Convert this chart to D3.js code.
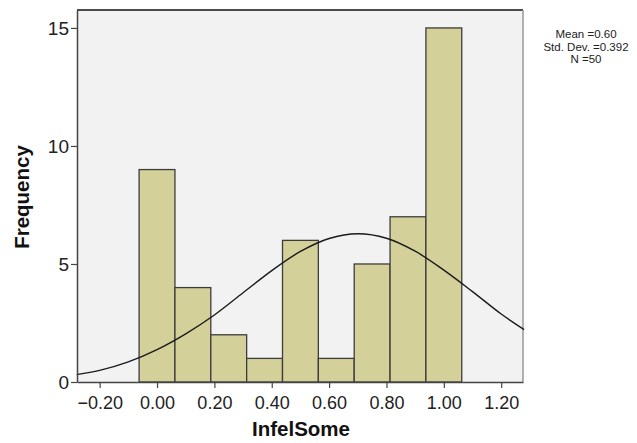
<!DOCTYPE html>
<html>
<head>
<meta charset="utf-8">
<script src="https://cdn.jsdelivr.net/npm/d3@7"></script>
<style>
  body { margin: 0; background: #fff; }
  text { font-family: Arial, "Liberation Sans", sans-serif; }
</style>
</head>
<body>
<script>
// histogram bins (centre of each bin) and counts
var binCenters = [0.00, 0.125, 0.25, 0.375, 0.50, 0.625, 0.75, 0.875, 1.00];
var binCounts = [9, 4, 2, 1, 6, 1, 5, 7, 15];
var binWidth = 0.125;

// normal curve
var curveX = [-0.28, -0.2, -0.1, 0.0, 0.1, 0.2, 0.3, 0.4, 0.5, 0.6, 0.7, 0.8, 0.9, 1.0, 1.1, 1.2, 1.28];
var curveY = [0.31, 0.49, 0.85, 1.37, 2.04, 2.84, 3.78, 4.72, 5.53, 6.08, 6.28, 6.09, 5.54, 4.74, 3.83, 2.88, 2.22];

var xTicks = [-0.2, 0, 0.2, 0.4, 0.6, 0.8, 1.0, 1.2];
var yTicks = [0, 5, 10, 15];
var statLines = ["Mean =0.60", "Std. Dev. =0.392", "N =50"];

var width = 637, height = 443;
var plot = { left: 77, right: 523, top: 10, bottom: 382 };

var svg = d3.select("body").append("svg")
    .attr("width", width)
    .attr("height", height);

var x = d3.scaleLinear().domain([-0.279, 1.276]).range([plot.left, plot.right]);
var y = d3.scaleLinear().domain([0, 15.76]).range([plot.bottom, plot.top]);

// plot background
svg.append("rect")
    .attr("x", plot.left)
    .attr("y", plot.top)
    .attr("width", plot.right - plot.left)
    .attr("height", plot.bottom - plot.top)
    .attr("fill", "#f2f2f2");

// frame: top black, right grey
svg.append("line")
    .attr("x1", plot.left).attr("x2", plot.right)
    .attr("y1", plot.top).attr("y2", plot.top)
    .attr("stroke", "#111").attr("stroke-width", 1.5);
svg.append("line")
    .attr("x1", plot.right).attr("x2", plot.right)
    .attr("y1", plot.top).attr("y2", plot.bottom)
    .attr("stroke", "#999").attr("stroke-width", 1.5);

// bars
svg.selectAll(".bar")
    .data(binCenters)
    .enter().append("rect")
    .attr("class", "bar")
    .attr("x", function(d) { return x(d - binWidth / 2); })
    .attr("y", function(d, i) { return y(binCounts[i]); })
    .attr("width", function(d) { return x(d + binWidth / 2) - x(d - binWidth / 2); })
    .attr("height", function(d, i) { return y(0) - y(binCounts[i]); })
    .attr("fill", "#d3d099")
    .attr("stroke", "#3c3c3c")
    .attr("stroke-width", 1.3);

// normal curve
var line = d3.line()
    .x(function(d, i) { return x(d); })
    .y(function(d, i) { return y(curveY[i]); })
    .curve(d3.curveCatmullRom);

svg.append("path")
    .attr("d", line(curveX))
    .attr("fill", "none")
    .attr("stroke", "#1a1a1a")
    .attr("stroke-width", 1.4);

// axes
var xAxis = svg.append("g")
    .attr("transform", "translate(0," + plot.bottom + ")")
    .call(d3.axisBottom(x).tickValues(xTicks).tickFormat(d3.format(".2f")).tickSize(6).tickSizeOuter(0));
var yAxis = svg.append("g")
    .attr("transform", "translate(" + plot.left + ",0)")
    .call(d3.axisLeft(y).tickValues(yTicks).tickSize(6).tickSizeOuter(0));

[xAxis, yAxis].forEach(function(a) {
    a.select(".domain").attr("stroke", "#444").attr("stroke-width", 1.5);
    a.selectAll(".tick line").attr("stroke", "#444").attr("stroke-width", 1.2);
    a.selectAll(".tick text").attr("fill", "#222").style("font-family", "Arial, 'Liberation Sans', sans-serif");
});
xAxis.selectAll(".tick text").attr("font-size", 18).attr("dy", "1.0em");
yAxis.selectAll(".tick text").attr("font-size", 19).attr("x", -8);

// axis titles
svg.append("text")
    .attr("x", (plot.left + plot.right) / 2 + 1)
    .attr("y", 436)
    .attr("text-anchor", "middle")
    .attr("font-size", 20.5)
    .attr("font-weight", "bold")
    .attr("fill", "#111")
    .text("InfelSome");

svg.append("text")
    .attr("transform", "translate(29,197) rotate(-90)")
    .attr("text-anchor", "middle")
    .attr("font-size", 20.5)
    .attr("font-weight", "bold")
    .attr("fill", "#111")
    .text("Frequency");

// stats box
svg.selectAll(".stat")
    .data(statLines)
    .enter().append("text")
    .attr("class", "stat")
    .attr("x", 586)
    .attr("y", function(d, i) { return 38 + i * 12.5; })
    .attr("text-anchor", "middle")
    .attr("font-size", 11.5)
    .attr("fill", "#222")
    .text(function(d) { return d; });
</script>
</body>
</html>
